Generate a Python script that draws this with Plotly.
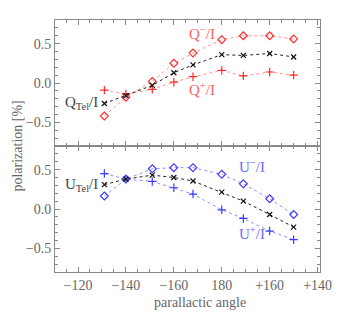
import plotly.graph_objects as go
from plotly.subplots import make_subplots

# x positions: parallactic angle mapped to continuous scale (-120 -> 120, 180 -> 180, +140 -> 220)
angle_pos = [131, 140, 151, 160, 168, 180, 189, 200, 210]
tick_vals = [120, 140, 160, 180, 200, 220]
tick_text = ["\u2212120", "\u2212140", "\u2212160", "180", "+160", "+140"]

q_minus = [-0.42, -0.18, 0.02, 0.25, 0.38, 0.55, 0.60, 0.60, 0.56]
q_tel = [-0.26, -0.16, -0.03, 0.13, 0.23, 0.36, 0.35, 0.375, 0.33]
q_plus = [-0.09, -0.14, -0.08, 0.01, 0.08, 0.16, 0.09, 0.14, 0.10]

u_minus = [0.165, 0.38, 0.51, 0.525, 0.525, 0.44, 0.32, 0.13, -0.07]
u_tel = [0.31, 0.38, 0.43, 0.40, 0.355, 0.215, 0.10, -0.07, -0.23]
u_plus = [0.45, 0.38, 0.35, 0.27, 0.19, -0.01, -0.12, -0.28, -0.39]

RED = "#ff2a2a"
BLUE = "#3a3aff"
FONT = "Liberation Serif"
GRAY = "#666666"

fig = make_subplots(rows=2, cols=1, shared_xaxes=True, vertical_spacing=0)

def add(y, row, color, linecolor, symbol, size):
    fig.add_trace(go.Scatter(
        x=angle_pos, y=y, mode="lines+markers",
        line=dict(color=linecolor, width=1, dash="dot"),
        marker=dict(symbol=symbol, size=size, color=color,
                    line=dict(color=color, width=1.2)),
        showlegend=False), row=row, col=1)

add(q_minus, 1, RED, "#ff9090", "diamond-open", 6)
add(q_plus, 1, RED, "#ff9090", "cross-thin", 6)
add(q_tel, 1, "#111111", "#222222", "x-thin", 5)
add(u_minus, 2, BLUE, "#9090ff", "diamond-open", 6)
add(u_plus, 2, BLUE, "#9090ff", "cross-thin", 6)
add(u_tel, 2, "#111111", "#222222", "x-thin", 5)

axis_common = dict(
    showline=True, linecolor="#888888", linewidth=1, mirror="ticks",
    ticks="inside", ticklen=5, tickcolor="#888888",
    showgrid=False, zeroline=False,
    tickfont=dict(family=FONT, size=14, color=GRAY),
)
minor_x = dict(dtick=5, ticks="inside", ticklen=3, tickcolor="#888888", showgrid=False)
minor_y = dict(dtick=0.1, ticks="inside", ticklen=3, tickcolor="#888888", showgrid=False)

for r in (1, 2):
    fig.update_xaxes(range=[110.4, 221], tickmode="array", tickvals=tick_vals,
                     ticktext=tick_text, minor=minor_x, row=r, col=1, **axis_common)
    fig.update_yaxes(range=[-0.8, 0.8], tickmode="array", tickvals=[-0.5, 0, 0.5],
                     tickformat=".1f", minor=minor_y, row=r, col=1, **axis_common)
fig.update_xaxes(showticklabels=False, row=1, col=1)

def label(text, x, y, color, ref, xanchor="left"):
    fig.add_annotation(x=x, y=y, xref="x" if ref == 1 else "x2",
                       yref="y" if ref == 1 else "y2", text=text, showarrow=False,
                       xanchor=xanchor, yanchor="middle",
                       font=dict(family=FONT, size=15, color=color))

label("Q<sup>\u2212</sup>/I", 165.5, 0.64, "#ff6060", 1)
label("Q<sup>+</sup>/I", 165.5, -0.08, "#ff6060", 1)
label("Q<sub>Tel</sub>/I", 129, -0.25, "#444444", 1, "right")
label("U<sup>\u2212</sup>/I", 186.5, 0.55, "#6a6aff", 2)
label("U<sup>+</sup>/I", 186.5, -0.30, "#6a6aff", 2)
label("U<sub>Tel</sub>/I", 129, 0.31, "#444444", 2, "right")

fig.add_annotation(x=0.546, y=-0.12, xref="paper", yref="paper",
                   text="parallactic angle", showarrow=False,
                   font=dict(family=FONT, size=14, color=GRAY), yanchor="middle")
fig.add_annotation(x=-0.145, y=0.5, xref="paper", yref="paper",
                   text="polarization [%]", showarrow=False, textangle=-90,
                   font=dict(family=FONT, size=14, color=GRAY), xanchor="center")

# page body has an 8px default margin, so the figure is 8px smaller to fit the window
fig.update_layout(width=338, height=315, margin=dict(l=47, r=26, t=12, b=51),
                  plot_bgcolor="white", paper_bgcolor="white")

fig.write_html("out.html")
